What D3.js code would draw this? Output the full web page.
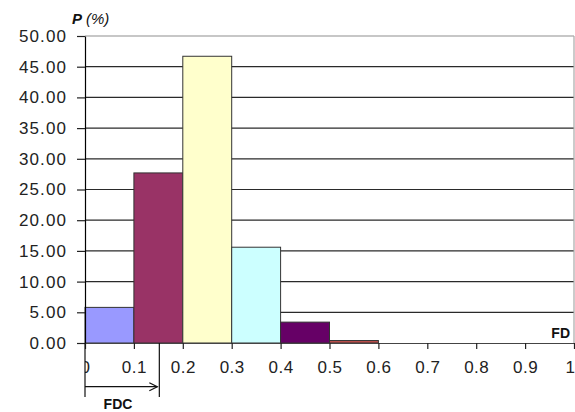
<!DOCTYPE html>
<html><head><meta charset="utf-8">
<script src="https://cdn.jsdelivr.net/npm/d3@7"></script>
<style>
html,body{margin:0;padding:0;background:#fff;}
svg{display:block;}
text{font-family:Arial,"Liberation Sans",sans-serif;}
</style></head>
<body>
<svg id="c" width="575" height="412"></svg>
<script>
// ---- data ----
const binStarts = [0, 0.1, 0.2, 0.3, 0.4, 0.5];
const binEnds   = [0.1, 0.2, 0.3, 0.4, 0.5, 0.6];
const percents  = [5.8, 27.7, 46.7, 15.6, 3.4, 0.4];
const barColors = ["#9999FF", "#993366", "#FFFFCC", "#CCFFFF", "#660066", "#C0504D"];
const yTicks = [0, 5, 10, 15, 20, 25, 30, 35, 40, 45, 50];
const xTicks = [0, 0.1, 0.2, 0.3, 0.4, 0.5, 0.6, 0.7, 0.8, 0.9, 1];
const fdcValue = 0.152;

const svg = d3.select("#c");
const x = d3.scaleLinear().domain([0, 1]).range([85, 574]);
const y = d3.scaleLinear().domain([0, 50]).range([343, 36]);

svg.append("defs").append("clipPath").attr("id", "xclip")
  .append("rect").attr("x", x(0)).attr("y", 0).attr("width", 600).attr("height", 412);

// gridlines
svg.append("g").selectAll("line").data(yTicks.filter(d => d > 0 && d < 50)).join("line")
  .attr("x1", x(0)).attr("x2", x(1)).attr("y1", d => y(d)).attr("y2", d => y(d))
  .attr("stroke", "#2a2a2a").attr("stroke-width", 1.2);
// plot border top and right
svg.append("line").attr("x1", x(0)).attr("x2", x(1)).attr("y1", y(50)).attr("y2", y(50))
  .attr("stroke", "#b4b4b4").attr("stroke-width", 1.5);
svg.append("line").attr("x1", x(1)).attr("x2", x(1)).attr("y1", y(50)).attr("y2", y(0))
  .attr("stroke", "#a8a8a8").attr("stroke-width", 1.2);

// bars
svg.append("g").selectAll("rect").data(percents).join("rect")
  .attr("x", (d, i) => x(binStarts[i]))
  .attr("width", (d, i) => x(binEnds[i]) - x(binStarts[i]))
  .attr("y", d => y(d))
  .attr("height", d => y(0) - y(d))
  .attr("fill", (d, i) => barColors[i])
  .attr("stroke", "#333").attr("stroke-width", 1);

// y axis
const yAxis = svg.append("g").attr("transform", `translate(${x(0)},0)`)
  .call(d3.axisLeft(y).tickValues(yTicks).tickFormat(d3.format(".2f")).tickSize(8).tickPadding(10).tickSizeOuter(0));
yAxis.select(".domain").attr("stroke", "#000").attr("stroke-width", 1.2);
yAxis.selectAll(".tick line").attr("stroke", "#222").attr("stroke-width", 1.2);
yAxis.selectAll(".tick text").attr("font-size", 17).attr("fill", "#222")
  .attr("font-family", "Arial, 'Liberation Sans', sans-serif").attr("letter-spacing", 1.1);

// x axis
const xAxis = svg.append("g").attr("transform", `translate(0,${y(0)})`)
  .call(d3.axisBottom(x).tickValues(xTicks).tickFormat(d => d === 0 || d === 1 ? String(d) : d3.format(".1f")(d)).tickSize(6).tickPadding(11.6).tickSizeOuter(0));
xAxis.select(".domain").attr("stroke", "#444").attr("stroke-width", 1.2);
xAxis.selectAll(".tick line").attr("stroke", "#222").attr("stroke-width", 1.2);
xAxis.selectAll(".tick text").attr("font-size", 17).attr("fill", "#222")
  .attr("font-family", "Arial, 'Liberation Sans', sans-serif").attr("letter-spacing", 0.5);
// last label kept inside the picture
xAxis.selectAll(".tick text").filter(d => d === 1).attr("text-anchor", "end").attr("x", 575 - x(1));
xAxis.attr("clip-path", "url(#xclip)");
svg.append("line").attr("x1", x(0)).attr("x2", x(0)).attr("y1", y(0)).attr("y2", 397)
  .attr("stroke", "#111").attr("stroke-width", 1.2);

// FDC annotation
svg.append("line").attr("x1", x(fdcValue)).attr("x2", x(fdcValue)).attr("y1", y(0)).attr("y2", 397)
  .attr("stroke", "#111").attr("stroke-width", 1.2);
const ay = 386.7;
svg.append("line").attr("x1", x(0)).attr("x2", x(fdcValue) - 2).attr("y1", ay).attr("y2", ay)
  .attr("stroke", "#111").attr("stroke-width", 1.2);
svg.append("path")
  .attr("d", `M${x(fdcValue) - 10},${ay - 4} L${x(fdcValue) - 2},${ay} L${x(fdcValue) - 10},${ay + 4}`)
  .attr("fill", "none").attr("stroke", "#111").attr("stroke-width", 1.2);
svg.append("text").attr("x", 118).attr("y", 409).attr("text-anchor", "middle")
  .attr("font-size", 14).attr("font-weight", "bold").attr("fill", "#111").text("FDC");

// FD label
svg.append("text").attr("x", 570).attr("y", 338).attr("text-anchor", "end")
  .attr("font-size", 14).attr("font-weight", "bold").attr("fill", "#111").text("FD");

// y label
const yl = svg.append("text").attr("x", 72).attr("y", 24)
  .attr("font-family", "'Liberation Serif', 'Times New Roman', serif").attr("font-size", 15)
  .attr("font-style", "italic").attr("fill", "#111");
yl.append("tspan").attr("font-weight", "bold").text("P");
yl.append("tspan").attr("dx", 4).text("(%)");
</script>
</body></html>
